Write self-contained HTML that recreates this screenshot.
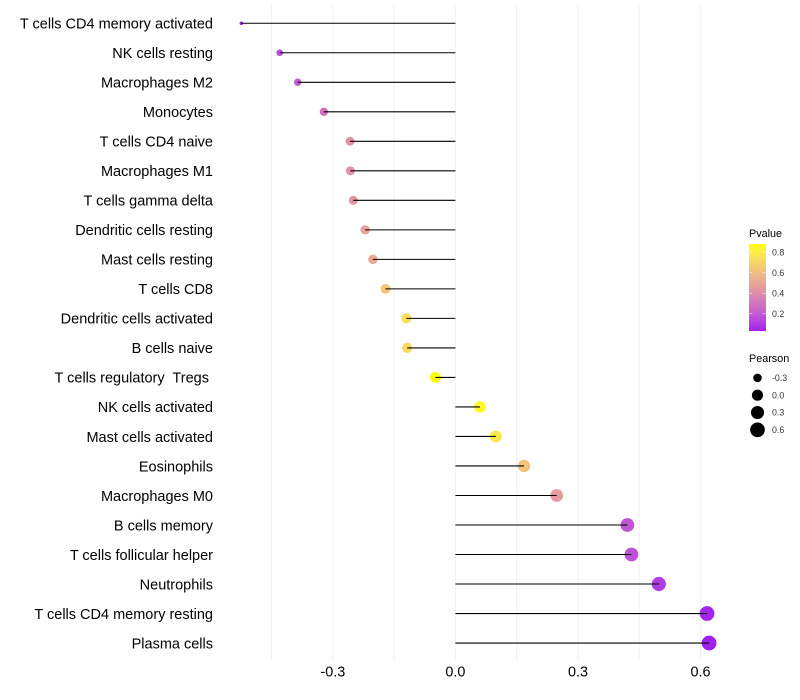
<!DOCTYPE html>
<html>
<head>
<meta charset="utf-8">
<title>Pearson lollipop chart</title>
<style>
html,body{margin:0;padding:0;background:#fff;}
svg{display:block;font-family:"Liberation Sans",Arial,sans-serif;}
text{white-space:pre;}
</style>
</head>
<body>
<svg id="chart" xmlns="http://www.w3.org/2000/svg" width="800" height="700" viewBox="0 0 800 700"></svg>
<script>
const categories = ["T cells CD4 memory activated","NK cells resting","Macrophages M2","Monocytes","T cells CD4 naive","Macrophages M1","T cells gamma delta","Dendritic cells resting","Mast cells resting","T cells CD8","Dendritic cells activated","B cells naive","T cells regulatory  Tregs ","NK cells activated","Mast cells activated","Eosinophils","Macrophages M0","B cells memory","T cells follicular helper","Neutrophils","T cells CD4 memory resting","Plasma cells"];
const pearsonValues = [-0.524,-0.43,-0.386,-0.322,-0.258,-0.257,-0.25,-0.221,-0.202,-0.171,-0.12,-0.118,-0.049,0.06,0.099,0.168,0.248,0.421,0.431,0.498,0.616,0.621];
const pValues = [0.03,0.17,0.2,0.28,0.42,0.42,0.43,0.48,0.52,0.63,0.74,0.72,0.88,0.85,0.78,0.62,0.45,0.18,0.17,0.1,0.04,0.03];
const xMajorTicks = [-0.3,0,0.3,0.6];
const xTickLabels = ["-0.3","0.0","0.3","0.6"];
const xMinorTicks = [-0.45,-0.15,0.15,0.45];
const pLegendTicks = [0.8,0.6,0.4,0.2];
const pLegendLabels = ["0.8","0.6","0.4","0.2"];
const sizeLegendBreaks = [-0.3,0,0.3,0.6];
const sizeLegendLabels = ["-0.3","0.0","0.3","0.6"];

const svg = document.getElementById('chart');
const NS = 'http://www.w3.org/2000/svg';
function make(tag, attrs, parent){
  const e = document.createElementNS(NS, tag);
  for (const k in attrs) e.setAttribute(k, attrs[k]);
  (parent || svg).appendChild(e);
  return e;
}

/* axis functions */
function xScale(v){ return 455.4 + 408.5 * v; }
function yScale(i){ return 23.25 + i * (643.05 - 23.25) / 21; }
const sMin = Math.min.apply(null, pearsonValues);
const sMax = Math.max.apply(null, pearsonValues);
function rScale(v){
  const t = Math.max(0, Math.min(1, (v - sMin) / (sMax - sMin)));
  return 1.8 + 5.6 * Math.sqrt(t);
}
const pMin = Math.min.apply(null, pValues);
const pMax = Math.max.apply(null, pValues);

/* Lab colour interpolation, purple to yellow */
function rgb2lab(c){
  const f = c.map(function(v){ v /= 255; return v > 0.04045 ? Math.pow((v + 0.055) / 1.055, 2.4) : v / 12.92; });
  const X = (0.4124564*f[0] + 0.3575761*f[1] + 0.1804375*f[2]) / 0.95047;
  const Y = (0.2126729*f[0] + 0.7151522*f[1] + 0.0721750*f[2]);
  const Z = (0.0193339*f[0] + 0.1191920*f[1] + 0.9503041*f[2]) / 1.08883;
  const g = function(t){ return t > 0.008856 ? Math.cbrt(t) : 7.787 * t + 16 / 116; };
  return [116*g(Y) - 16, 500*(g(X) - g(Y)), 200*(g(Y) - g(Z))];
}
function lab2rgb(l){
  const fy = (l[0] + 16) / 116, fx = l[1] / 500 + fy, fz = fy - l[2] / 200;
  const h = function(t){ return t*t*t > 0.008856 ? t*t*t : (t - 16/116) / 7.787; };
  const X = h(fx)*0.95047, Y = h(fy), Z = h(fz)*1.08883;
  const r = 3.2404542*X - 1.5371385*Y - 0.4985314*Z;
  const g = -0.9692660*X + 1.8760108*Y + 0.0415560*Z;
  const b = 0.0556434*X - 0.2040259*Y + 1.0572252*Z;
  return [r, g, b].map(function(v){
    v = v > 0.0031308 ? 1.055 * Math.pow(v, 1/2.4) - 0.055 : 12.92 * v;
    return Math.round(Math.max(0, Math.min(1, v)) * 255);
  });
}
const labLow = rgb2lab([160,32,240]);
const labHigh = rgb2lab([255,255,0]);
function colorScale(p){
  const t = Math.max(0, Math.min(1, (p - pMin) / (pMax - pMin)));
  const c = lab2rgb(labLow.map(function(v, i){ return v + (labHigh[i] - v) * t; }));
  return 'rgb(' + c.join(',') + ')';
}

/* gridlines */
const gridGroup = make('g', {stroke:'#f0f0f0', 'stroke-width':1});


xMajorTicks.concat(xMinorTicks).forEach(function(v){
  const l = make('line', {x1:xScale(v), x2:xScale(v), y1:5, y2:660}, gridGroup);
  
  
});

/* row labels */
categories.forEach(function(c, i){
  const t = make('text', {x:213, y:yScale(i) + 5.3, 'text-anchor':'end', 'font-size':14.5, fill:'#000'});
  t.textContent = c;
  
  
});

/* x tick labels */
xMajorTicks.forEach(function(v, i){
  const t = make('text', {x:xScale(v), y:676.5, 'text-anchor':'middle', 'font-size':14.4, fill:'#000'});
  t.textContent = xTickLabels[i];
  
  
});

/* points below segments */
pearsonValues.forEach(function(v, i){
  const c = make('circle', {cx:xScale(v), cy:yScale(i), r:rScale(v), fill:colorScale(pValues[i])});
  
  
});
pearsonValues.forEach(function(v, i){
  const l = make('line', {x1:xScale(0), x2:xScale(v), y1:yScale(i), y2:yScale(i), stroke:'#000', 'stroke-width':1.07});
  
  
});

/* Pvalue legend */
const barTop = 244, barBottom = 331, barX = 749, barW = 17;
function legendY(p){ return 252.3 + (0.8 - p) * 102.4; }
const pTitle = make('text', {x:749, y:237, 'font-size':10.8, fill:'#000'});
pTitle.textContent = 'Pvalue';


const defs = make('defs', {});
const grad = make('linearGradient', {id:'pgrad', x1:0, y1:1, x2:0, y2:0}, defs);
for (let s = 0; s <= 20; s++){
  make('stop', {offset:s / 20, 'stop-color':colorScale(pMin + (pMax - pMin) * s / 20)}, grad);
}
const bar = make('rect', {x:barX, y:barTop, width:barW, height:barBottom - barTop, fill:'url(#pgrad)'});


pLegendTicks.forEach(function(p, i){
  const y = legendY(p);
  [[barX, barX + 3.4], [barX + barW - 3.4, barX + barW]].forEach(function(seg){
    const m = make('line', {x1:seg[0], x2:seg[1], y1:y, y2:y, stroke:'#fff', 'stroke-width':0.6, 'stroke-opacity':0.8});
    
    
  });
  const t = make('text', {x:772, y:y + 3.2, 'font-size':8.8, fill:'#333'});
  t.textContent = pLegendLabels[i];
  
  
});

/* Pearson legend */
const sTitle = make('text', {x:749, y:362, 'font-size':10.8, fill:'#000'});
sTitle.textContent = 'Pearson';


sizeLegendBreaks.forEach(function(v, i){
  const y = 377.9 + i * 17.3;
  const c = make('circle', {cx:757.5, cy:y, r:rScale(v), fill:'#000'});
  
  
  const t = make('text', {x:772, y:y + 3.2, 'font-size':8.8, fill:'#333'});
  t.textContent = sizeLegendLabels[i];
  
  
});
</script>
</body>
</html>
